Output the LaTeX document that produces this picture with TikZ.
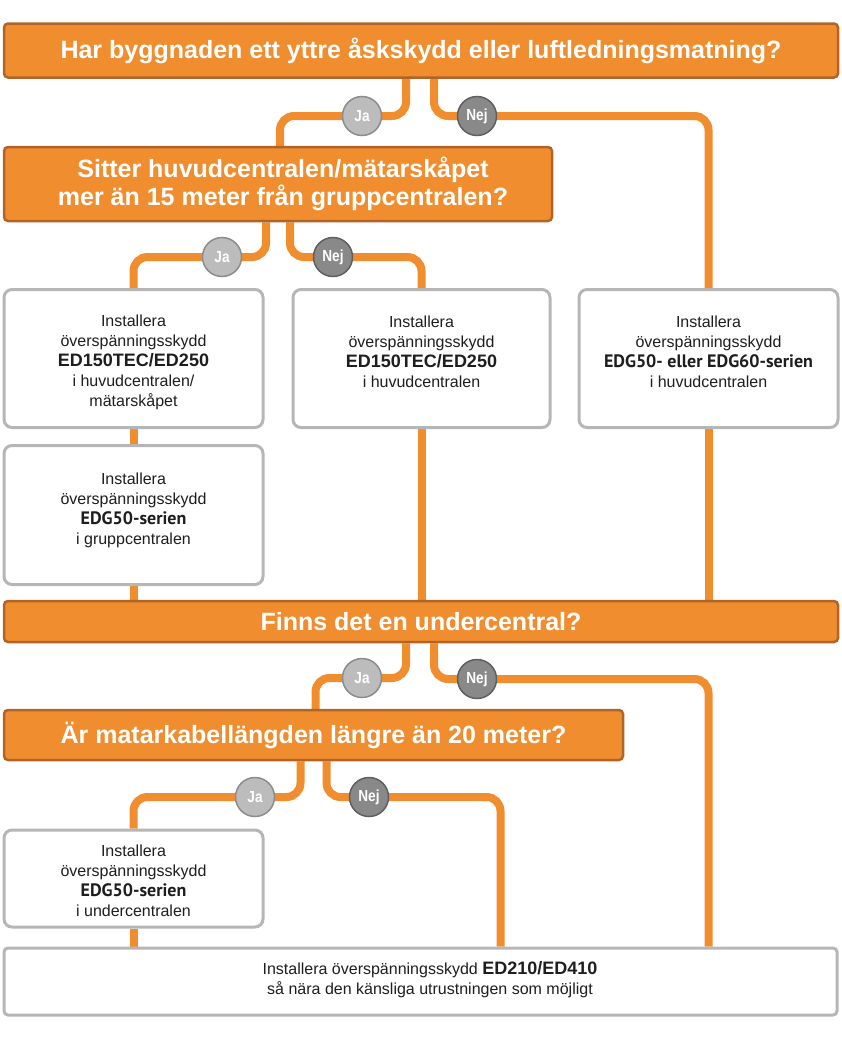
\documentclass[tikz,border=0pt]{standalone}
\usepackage{fontspec}
\setmainfont{Liberation Sans}
\newfontfamily\edgfont{PT Sans}
\newfontfamily\narrowfont[FakeStretch=0.85]{Liberation Sans}
\usetikzlibrary{positioning,backgrounds}

\definecolor{flow}{RGB}{240,141,46}
\definecolor{flowedge}{RGB}{178,100,40}
\definecolor{boxedge}{RGB}{182,182,182}
\definecolor{jafill}{RGB}{188,188,188}
\definecolor{jaedge}{RGB}{140,140,140}
\definecolor{nejfill}{RGB}{137,137,137}
\definecolor{nejedge}{RGB}{95,95,95}
\definecolor{ink}{RGB}{30,30,30}

\newcommand{\modelname}[1]{{\fontsize{18}{20}\selectfont\bfseries #1}}
\newcommand{\edgseries}[1]{{\fontsize{18}{20}\selectfont\edgfont\bfseries #1}}

\tikzset{
  question/.style={draw=flowedge, fill=flow, line width=2.5pt, rounded corners=4pt,
    text=white, font=\fontsize{25}{28}\selectfont\bfseries, align=center, inner sep=0pt},
  infobox/.style={draw=boxedge, fill=white, line width=3pt, rounded corners=8pt, inner sep=0pt},
  infotext/.style={text=ink, align=center, font=\fontsize{16}{20}\selectfont},
  wire/.style={draw=flow, line width=8pt, rounded corners=14pt},
  answer/.style={circle, minimum size=39pt, inner sep=0pt, line width=1.5pt,
    text=white, font=\fontsize{16}{18}\selectfont\narrowfont\bfseries},
  ja/.style={answer, fill=jafill, draw=jaedge},
  nej/.style={answer, fill=nejfill, draw=nejedge},
}

\begin{document}
\begin{tikzpicture}[x=1pt, y=-1pt]
    \useasboundingbox (0,0) rectangle (842,1044);

    % Questions
    \node[question, minimum width=834pt, minimum height=54pt] (q1) at (421,50.5)
        {Har byggnaden ett yttre åskskydd eller luftledningsmatning?};
    \node[question, minimum width=548pt, minimum height=74pt] (q2) at (278,184)
        {\hspace*{10pt}Sitter huvudcentralen/mätarskåpet\\\hspace*{10pt}mer än 15 meter från gruppcentralen?};
    \node[question, minimum width=834pt, minimum height=41pt] (q3) at (421,621.5)
        {Finns det en undercentral?};
    \node[question, minimum width=619pt, minimum height=50pt] (q4) at (313.5,735)
        {Är matarkabellängden längre än 20 meter?};

    % Install boxes
    \node[infobox, minimum width=259pt, minimum height=138pt] (a) at (133.5,358.5) {};
    \node[infobox, minimum width=257pt, minimum height=138pt] (b) at (421.5,358.5) {};
    \node[infobox, minimum width=259pt, minimum height=138pt] (c) at (708.5,358.5) {};
    \node[infobox, minimum width=259pt, minimum height=139pt] (d) at (133.5,515) {};
    \node[infobox, minimum width=259pt, minimum height=97pt] (e) at (133.5,878.5) {};
    \node[infobox, minimum width=833pt, minimum height=67pt, rounded corners=4pt] (f) at (420.5,981.5) {};

    % Box texts
    \node[infotext] (atext) at (133.5,362) {Installera\\överspänningsskydd\\\modelname{ED150TEC/ED250}\\i huvudcentralen/\\mätarskåpet};
    \node[infotext] (btext) at (421.5,352) {Installera\\överspänningsskydd\\\modelname{ED150TEC/ED250}\\i huvudcentralen};
    \node[infotext] (ctext) at (708.5,352) {Installera\\överspänningsskydd\\\edgseries{EDG50- eller EDG60-serien}\\i huvudcentralen};
    \node[infotext] (dtext) at (133.5,510) {Installera\\överspänningsskydd\\\edgseries{EDG50-serien}\\i gruppcentralen};
    \node[infotext] (etext) at (133.5,881) {Installera\\överspänningsskydd\\\edgseries{EDG50-serien}\\i undercentralen};
    \node[infotext] (ftext) at (430,980) {Installera överspänningsskydd \modelname{ED210/ED410}\\så nära den känsliga utrustningen som möjligt};

    % Answers
    \node[ja] (ja1) at (362,116) {Ja};
    \node[nej] (nej1) at (477,116) {Nej};
    \node[ja] (ja2) at (222,257) {Ja};
    \node[nej] (nej2) at (333,257) {Nej};
    \node[ja] (ja3) at (362,678) {Ja};
    \node[nej] (nej3) at (477,679) {Nej};
    \node[ja] (ja4) at (255,797) {Ja};
    \node[nej] (nej4) at (369,797) {Nej};

    % Wires
    \begin{scope}[on background layer]
        \draw[wire] ([xshift=-15pt]q1.south) |- (ja1.center) -| ([xshift=2pt]q2.north);
        \draw[wire] ([xshift=13pt]q1.south) |- (nej1.center) -| (c.north);
        \draw[wire] ([xshift=-12pt]q2.south) |- (ja2.center) -| (a.north);
        \draw[wire] ([xshift=12pt]q2.south) |- (nej2.center) -| (b.north);
        \draw[wire] (a.south) -- (d.north);
        \draw[wire] (d.south) -- (d.south |- q3.north);
        \draw[wire] (b.south) -- (b.south |- q3.north);
        \draw[wire] (c.south) -- (c.south |- q3.north);
        \draw[wire] ([xshift=-15pt]q3.south) |- (ja3.center) -| ([xshift=2pt]q4.north);
        \draw[wire] ([xshift=13pt]q3.south) |- (nej3.center) -| (f.north -| c.south);
        \draw[wire] ([xshift=-13pt]q4.south) |- (ja4.center) -| (e.north);
        \draw[wire] ([xshift=13pt]q4.south) |- (nej4.center) -| ([xshift=80pt]f.north);
        \draw[wire] (e.south) -- (e.south |- f.north);
    \end{scope}
\end{tikzpicture}
\end{document}
